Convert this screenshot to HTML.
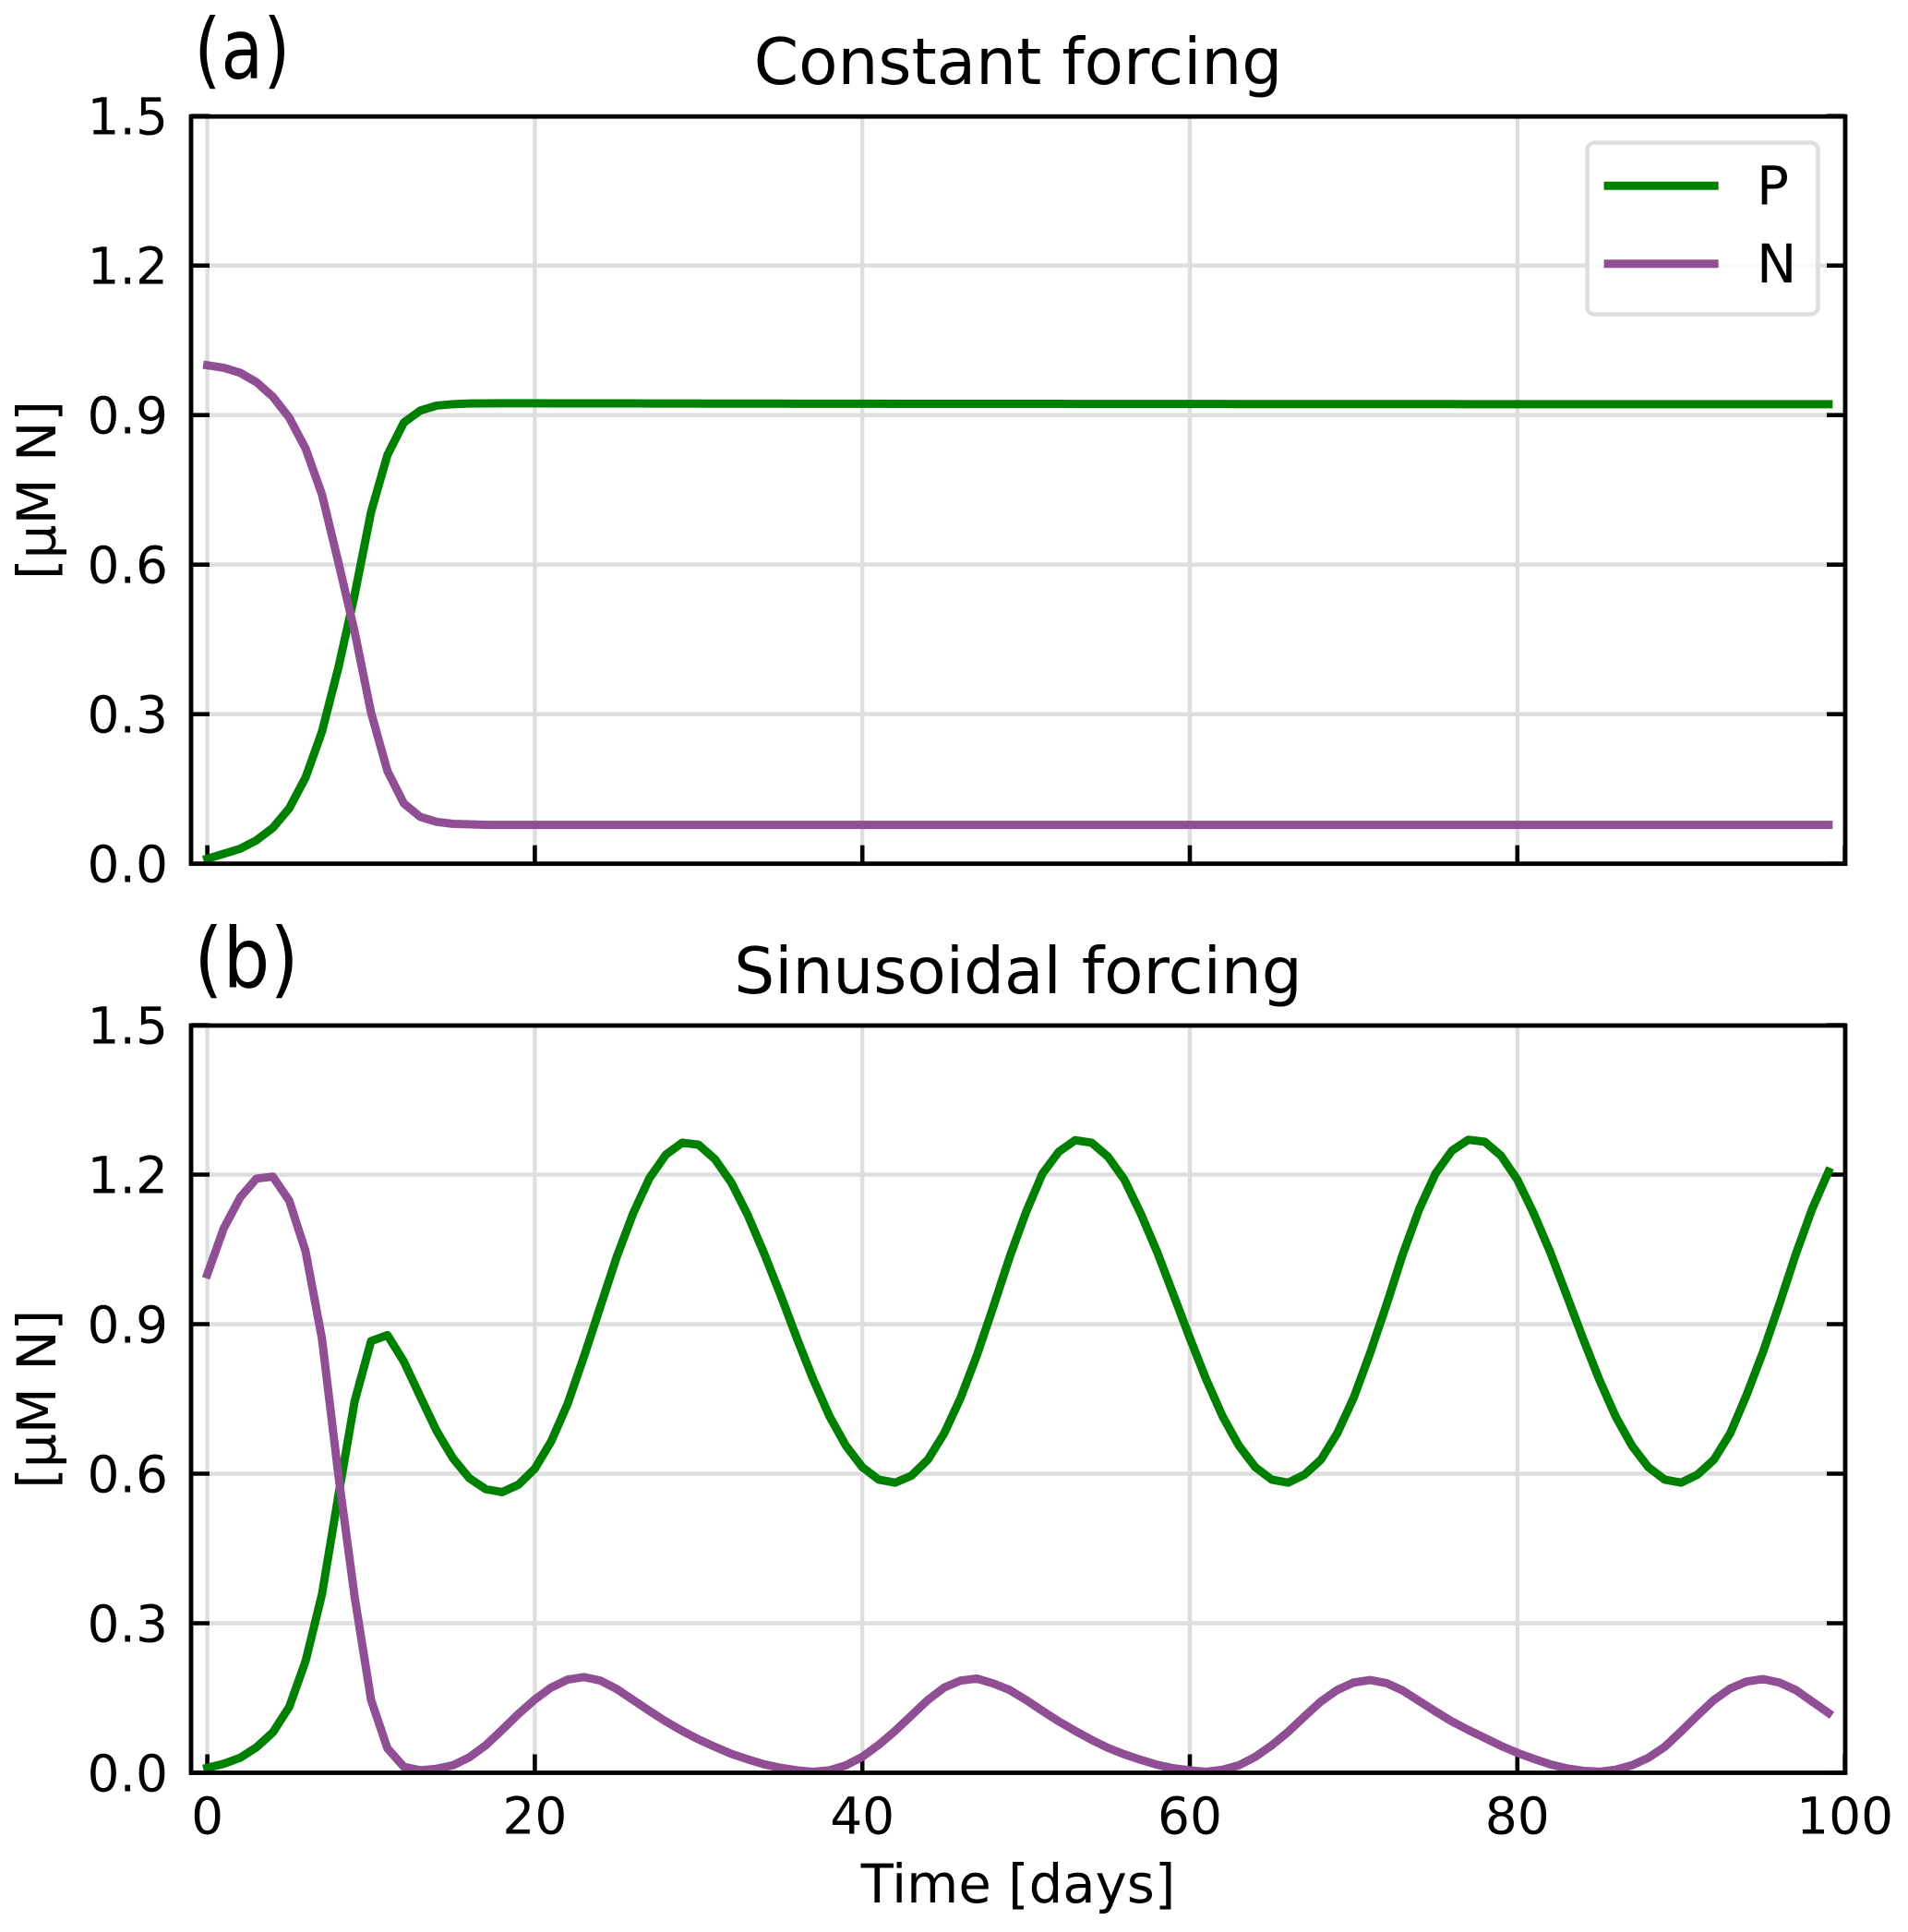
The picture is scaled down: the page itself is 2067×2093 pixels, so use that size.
<!DOCTYPE html>
<html lang="en">
<head>
<meta charset="utf-8">
<title>Constant and sinusoidal forcing</title>
<style>
html,body{margin:0;padding:0;background:#fff;}
svg{display:block;font-family:"DejaVu Sans","Liberation Sans",sans-serif;fill:#000;}
</style>
</head>
<body>
<svg id="chart" xmlns="http://www.w3.org/2000/svg" width="2067" height="2093" viewBox="0 0 2067 2093"></svg>
<script>
const days = [0,1,2,3,4,5,6,7,8,9,10,11,12,13,14,15,16,17,18,19,20,21,22,23,24,25,26,27,28,29,30,31,32,33,34,35,36,37,38,39,40,41,42,43,44,45,46,47,48,49,50,51,52,53,54,55,56,57,58,59,60,61,62,63,64,65,66,67,68,69,70,71,72,73,74,75,76,77,78,79,80,81,82,83,84,85,86,87,88,89,90,91,92,93,94,95,96,97,98,99];
const constantP = [.010,.020,.030,.047,.072,.111,.173,.265,.393,.540,.706,.820,.885,.909,.919,.922,.9232,.9236,.9238,.9238,
.9237,.9236,.9236,.9235,.9235,.9234,.9234,.9233,.9233,.9232,.9232,.9231,.9231,.9230,.9230,.9230,.9229,.9229,.9229,.9228,
.9228,.9228,.9227,.9227,.9227,.9226,.9226,.9226,.9226,.9225,.9225,.9225,.9225,.9224,.9224,.9224,.9224,.9224,.9223,.9223,
.9223,.9223,.9223,.9222,.9222,.9222,.9222,.9222,.9222,.9221,.9221,.9221,.9221,.9221,.9221,.9221,.9221,.9220,.9220,.9220,
.9220,.9220,.9220,.9220,.9220,.9220,.9220,.9220,.9220,.9220,.9220,.9220,.9220,.9220,.9220,.9220,.9220,.9220,.9220,.9220];
const constantN = [1.000,.995,.985,.966,.937,.895,.833,.741,.605,.465,.303,.186,.121,.094,.084,.080,.079,.078,.078,.078,
.078,.078,.078,.078,.078,.078,.078,.078,.078,.078,.078,.078,.078,.078,.078,.078,.078,.078,.078,.078,
.078,.078,.078,.078,.078,.078,.078,.078,.078,.078,.078,.078,.078,.078,.078,.078,.078,.078,.078,.078,
.078,.078,.078,.078,.078,.078,.078,.078,.078,.078,.078,.078,.078,.078,.078,.078,.078,.078,.078,.078,
.078,.078,.078,.078,.078,.078,.078,.078,.078,.078,.078,.078,.078,.078,.078,.078,.078,.078,.078,.078];
const sinusoidalP = [.010,.018,.030,.051,.081,.132,.224,.358,.555,.746,.866,.878,.825,.755,.686,.631,.591,.569,.563,.578,
.610,.665,.740,.835,.935,1.035,1.122,1.193,1.240,1.264,1.260,1.231,1.184,1.119,1.042,.959,.872,.789,.715,.656,
.613,.588,.582,.596,.628,.681,.752,.838,.935,1.035,1.125,1.202,1.246,1.269,1.264,1.236,1.190,1.122,1.045,.959,
.872,.789,.715,.656,.613,.588,.582,.598,.628,.681,.752,.841,.938,1.040,1.130,1.202,1.248,1.270,1.266,1.238,
1.190,1.122,1.045,.959,.872,.789,.715,.656,.613,.588,.582,.598,.628,.681,.758,.844,.940,1.040,1.131,1.206];
const sinusoidalN = [1.000,1.092,1.154,1.192,1.196,1.148,1.046,.871,.598,.352,.146,.049,.012,.005,.008,.015,.031,.055,.086,.118,
.147,.171,.187,.192,.185,.168,.146,.124,.103,.084,.067,.052,.038,.027,.017,.010,.005,.002,.005,.015,
.032,.056,.084,.115,.146,.171,.185,.189,.179,.166,.146,.124,.103,.084,.066,.050,.037,.026,.016,.009,
.005,.002,.006,.015,.032,.055,.082,.113,.143,.166,.181,.186,.180,.165,.144,.123,.103,.086,.070,.054,
.040,.028,.017,.009,.004,.002,.006,.015,.030,.052,.083,.115,.146,.169,.183,.188,.181,.166,.143,.120];
const xTicks = [0,20,40,60,80,100];
const yTicks = [0,0.3,0.6,0.9,1.2,1.5];
const yTickLabels = ["0.0","0.3","0.6","0.9","1.2","1.5"];

const NS = "http://www.w3.org/2000/svg";
const svg = document.getElementById("chart");
const GREEN = "#008000", PURPLE = "#904f94", GRID = "#dedede";
const LEFT = 207, RIGHT = 1999, X0 = 224.6, XU = 17.74;
function xScale(d){ return X0 + XU * d; }
function yScaleFor(zero){ return function(v){ return zero - 540 * v; }; }
function make(tag, attrs, parent, text){
  const e = document.createElementNS(NS, tag);
  for (const k in attrs) e.setAttribute(k, attrs[k]);
  if (text !== undefined) e.textContent = text;
  (parent || svg).appendChild(e);
  return e;
}
function drawPanel(key, top, bottom, title, letter, letterBase, letterScale, seriesP, seriesN, showXLabels){
  const y = yScaleFor(bottom);
  const g = make("g", {});
  
  
  const clipId = key + "-clip";
  const defs = make("defs", {}, g);
  const cp = make("clipPath", {id: clipId}, defs);
  make("rect", {x: LEFT, y: top, width: RIGHT - LEFT, height: bottom - top}, cp);

  yTicks.slice(1, 5).forEach(function(t){
    const l = make("line", {x1: LEFT, x2: RIGHT, y1: y(t), y2: y(t), stroke: GRID, "stroke-width": 4.4}, g);
    
    
  });
  xTicks.slice(0, 5).forEach(function(t){
    const l = make("line", {x1: xScale(t), x2: xScale(t), y1: top, y2: bottom, stroke: GRID, "stroke-width": 4.4}, g);
    
    
  });
  yTicks.forEach(function(t, i){
    const a = make("line", {x1: LEFT, x2: LEFT + 20, y1: y(t), y2: y(t), stroke: "#000", "stroke-width": 4.6}, g);
    
    
    const b = make("line", {x1: RIGHT - 20, x2: RIGHT, y1: y(t), y2: y(t), stroke: "#000", "stroke-width": 4.6}, g);
    
    
    const s = make("text", {x: 182, y: y(t) + 20, "text-anchor": "end", "font-size": 55}, g, yTickLabels[i]);
    
    
  });
  xTicks.forEach(function(t){
    const a = make("line", {x1: xScale(t), x2: xScale(t), y1: bottom - 20, y2: bottom, stroke: "#000", "stroke-width": 4.6}, g);
    
    
    if (showXLabels) {
      const s = make("text", {x: xScale(t), y: bottom + 66, "text-anchor": "middle", "font-size": 55}, g, String(t));
      
      
    }
  });
  const pathFor = function(vals){
    return vals.map(function(v, i){ return (i ? "L" : "M") + xScale(days[i]).toFixed(2) + " " + y(v).toFixed(2); }).join("");
  };
  const lineP = make("path", {d: pathFor(seriesP), fill: "none", stroke: GREEN, "stroke-width": 9, "stroke-linejoin": "round", "stroke-linecap": "square", "clip-path": "url(#" + clipId + ")"}, g);
  
  
  const lineN = make("path", {d: pathFor(seriesN), fill: "none", stroke: PURPLE, "stroke-width": 9, "stroke-linejoin": "round", "stroke-linecap": "square", "clip-path": "url(#" + clipId + ")"}, g);
  
  

  const frame = make("rect", {x: LEFT, y: top, width: RIGHT - LEFT, height: bottom - top, fill: "none", stroke: "#000", "stroke-width": 4.8}, g);
  
  

  const tt = make("text", {x: 1103, y: top - 35, "text-anchor": "middle", "font-size": 69.3}, g, title);
  
  
  const pl = make("text", {x: 0, y: 0, transform: "translate(210.3," + letterBase + ") scale(" + letterScale + ",1)", "font-size": 90}, g, letter);
  
  
  const cy = (top + bottom) / 2;
  const yl = make("text", {x: 0, y: 0, transform: "translate(60," + cy + ") rotate(-90)", "text-anchor": "middle", "font-size": 58}, g, "[µM N]");
  
  
}
drawPanel("constant", 126.2, 935.7, "Constant forcing", "(a)", 84.3, 0.83, constantP, constantN, false);
drawPanel("sinusoidal", 1111, 1920.5, "Sinusoidal forcing", "(b)", 1069.3, 0.89, sinusoidalP, sinusoidalN, true);

const xTitle = make("text", {x: 1103, y: 2061, "text-anchor": "middle", "font-size": 57.7}, svg, "Time [days]");



const legend = make("g", {});


const legendBox = make("rect", {x: 1719.5, y: 154.5, width: 250, height: 186, rx: 8, ry: 8, fill: "#fff", "fill-opacity": 0.8, stroke: GRID, "stroke-width": 4.6}, legend);


const keyP = make("line", {x1: 1737.6, x2: 1861.7, y1: 201.3, y2: 201.3, stroke: GREEN, "stroke-width": 9}, legend);


const keyN = make("line", {x1: 1737.6, x2: 1861.7, y1: 285.7, y2: 285.7, stroke: PURPLE, "stroke-width": 9}, legend);


const labP = make("text", {x: 1903, y: 221.7, "font-size": 58}, legend, "P");


const labN = make("text", {x: 1903, y: 306, "font-size": 58}, legend, "N");


</script>
</body>
</html>
